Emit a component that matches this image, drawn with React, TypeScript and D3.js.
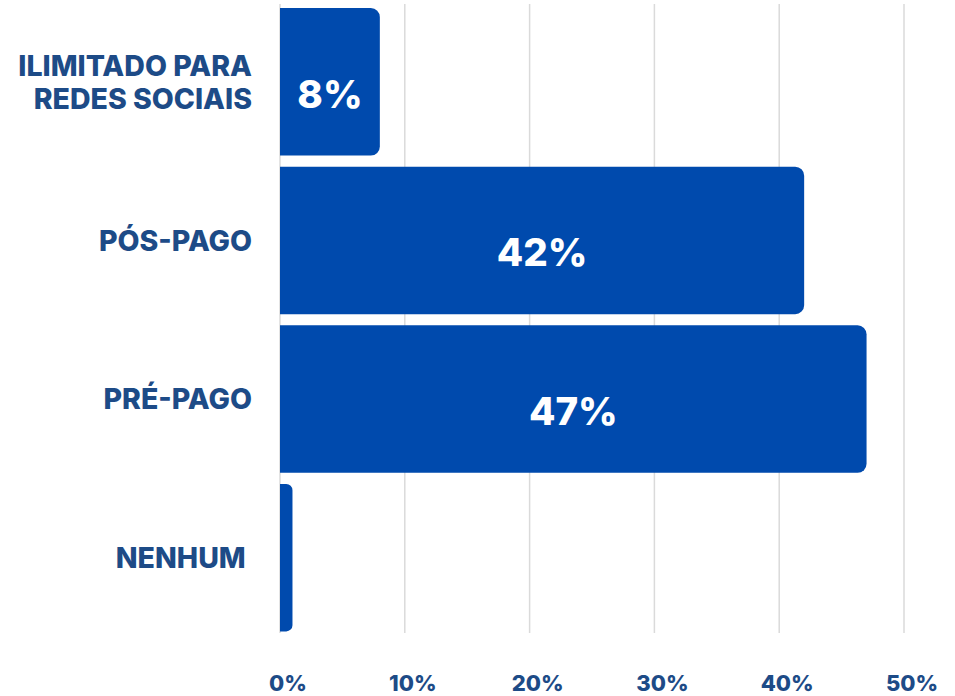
import React, { useRef, useEffect } from 'react';
import * as d3 from 'd3';

const categories = ['ILIMITADO PARA|REDES SOCIAIS', 'PÓS-PAGO', 'PRÉ-PAGO', 'NENHUM '];
const values = [8, 42, 47, 1];
const valueLabels = ['8%', '42%', '47%', ''];
const ticks = [0, 10, 20, 30, 40, 50];

const W = 955;
const H = 696;

const App = () => {
  const svgRef = useRef<SVGSVGElement>(null);

  useEffect(() => {
    const svg = d3.select(svgRef.current);
    svg.selectAll('*').remove();

    const font = 'Inter, "Noto Sans", sans-serif';
    const navy = '#1d4b87';
    const barColor = '#004aad';

    const x = d3.scaleLinear().domain([0, 50]).range([280, 904]);
    const y = d3.scaleBand<string>()
      .domain(categories)
      .range([2.5, 637])
      .paddingInner(0.07)
      .paddingOuter(0.035);

    // grid
    svg.append('g')
      .selectAll('line')
      .data(ticks)
      .join('line')
      .attr('x1', (d) => x(d))
      .attr('x2', (d) => x(d))
      .attr('y1', 4)
      .attr('y2', 633)
      .attr('stroke', '#dadada')
      .attr('stroke-width', 1.5);

    // bars, rounded on the right side only
    const barPath = (v: number, c: string) => {
      const x0 = x(0);
      const x1 = x(v);
      const y0 = y(c)!;
      const h = y.bandwidth();
      const r = Math.min(9, (x1 - x0) / 2);
      const p = d3.path();
      p.moveTo(x0, y0);
      p.lineTo(x1 - r, y0);
      p.arcTo(x1, y0, x1, y0 + r, r);
      p.lineTo(x1, y0 + h - r);
      p.arcTo(x1, y0 + h, x1 - r, y0 + h, r);
      p.lineTo(x0, y0 + h);
      p.closePath();
      return p.toString();
    };

    svg.append('g')
      .selectAll('path')
      .data(categories)
      .join('path')
      .attr('d', (c, i) => barPath(values[i], c))
      .attr('fill', barColor);

    // value labels (sit a little below the bar centre)
    svg.append('g')
      .selectAll('text')
      .data(categories)
      .join('text')
      .attr('x', (c, i) => (x(0) + x(values[i])) / 2)
      .attr('y', (c) => y(c)! + y.bandwidth() / 2 + 12)
      .attr('dy', '0.36em')
      .attr('text-anchor', 'middle')
      .attr('fill', '#ffffff')
      .attr('font-family', font)
      .attr('font-weight', 800)
      .attr('font-size', 38.5)
      .text((c, i) => valueLabels[i]);

    // category labels
    const cat = svg.append('g')
      .selectAll('text')
      .data(categories)
      .join('text')
      .attr('x', 252)
      .attr('y', (c) => y(c)! + y.bandwidth() / 2)
      .attr('text-anchor', 'end')
      .attr('fill', navy)
      .attr('font-family', font)
      .attr('font-weight', 800)
      .attr('font-size', 28.5)
      .style('white-space', 'pre');

    cat.each(function (c) {
      const lines = c.split('|');
      const t = d3.select(this);
      lines.forEach((ln, i) => {
        t.append('tspan')
          .attr('x', 252)
          .attr('dy', i === 0 ? `${0.36 - (lines.length - 1) * 0.58}em` : '1.16em')
          .text(ln);
      });
    });

    // x tick labels
    svg.append('g')
      .selectAll('text')
      .data(ticks)
      .join('text')
      .attr('x', (d) => x(d) + 8)
      .attr('y', 691)
      .attr('text-anchor', 'middle')
      .attr('fill', navy)
      .attr('font-family', font)
      .attr('font-weight', 800)
      .attr('font-size', 22)
      .text((d) => `${d}%`);
  }, []);

  return (
    <div style={{ position: 'absolute', left: 0, top: 0 }}>
      <svg ref={svgRef} width={W} height={H} style={{ display: 'block', background: '#ffffff' }}></svg>
    </div>
  );
};

export default App;
